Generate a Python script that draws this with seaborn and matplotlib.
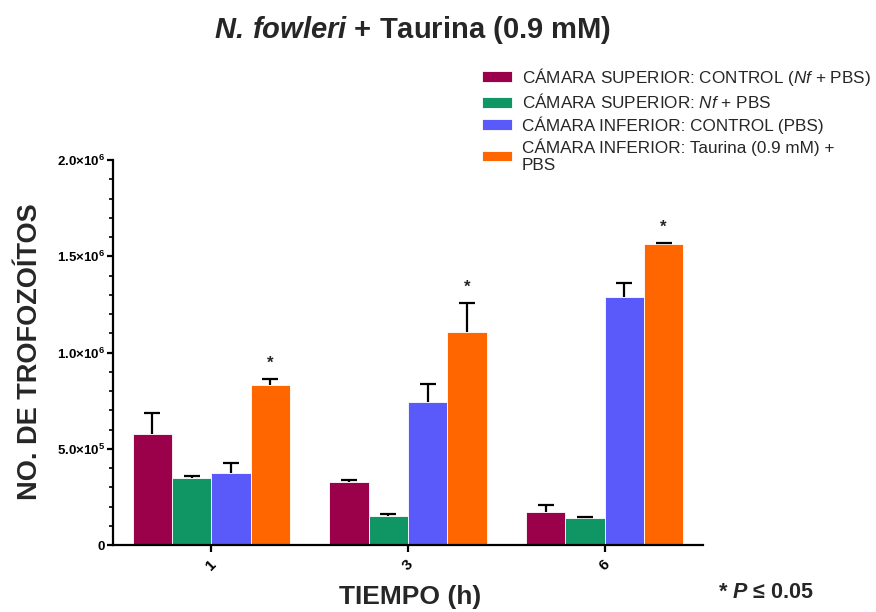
import matplotlib
matplotlib.use("Agg")
import matplotlib.pyplot as plt
import seaborn as sns
import pandas as pd
import numpy as np
from matplotlib.ticker import FixedLocator, FixedFormatter, MultipleLocator

# ---------------------------------------------------------------------------
# Data
# ---------------------------------------------------------------------------
tiempos = ["1", "3", "6"]
grupos = [
    "CÁMARA SUPERIOR: CONTROL ($\\mathit{Nf}$ + PBS)",
    "CÁMARA SUPERIOR: $\\mathit{Nf}$ + PBS",
    "CÁMARA INFERIOR: CONTROL (PBS)",
    "CÁMARA INFERIOR: Taurina (0.9 mM) +\nPBS",
]
colores = ["#9B004B", "#109664", "#5A5AFA", "#FF6600"]

sup_control = [5.77e5, 3.29e5, 1.73e5]
sup_nf = [3.48e5, 1.52e5, 1.39e5]
inf_control = [3.74e5, 7.43e5, 1.288e6]
inf_taurina = [8.31e5, 1.105e6, 1.566e6]

sup_control_err = [1.09e5, 0.09e5, 0.35e5]
sup_nf_err = [0.10e5, 0.07e5, 0.06e5]
inf_control_err = [0.52e5, 0.92e5, 0.72e5]
inf_taurina_err = [0.31e5, 1.51e5, 0.03e5]

significativo = [False, False, False, True]  # asterisk on the taurina series

ytick_values = [0, 5e5, 1e6, 1.5e6, 2e6]
ytick_labels = ["0",
                r"$\mathbf{5.0{\times}10^{5}}$",
                r"$\mathbf{1.0{\times}10^{6}}$",
                r"$\mathbf{1.5{\times}10^{6}}$",
                r"$\mathbf{2.0{\times}10^{6}}$"]

series = [sup_control, sup_nf, inf_control, inf_taurina]
errores = [sup_control_err, sup_nf_err, inf_control_err, inf_taurina_err]

df = pd.DataFrame({
    "tiempo": tiempos * len(grupos),
    "grupo": np.repeat(grupos, len(tiempos)),
    "valor": np.concatenate(series),
})

# ---------------------------------------------------------------------------
# Style
# ---------------------------------------------------------------------------
sns.set_style("ticks")
plt.rcParams["font.family"] = ["Liberation Sans", "DejaVu Sans"]
plt.rcParams["mathtext.fontset"] = "custom"
plt.rcParams["mathtext.rm"] = "Liberation Sans"
plt.rcParams["mathtext.it"] = "Liberation Sans:italic"
plt.rcParams["mathtext.bf"] = "Liberation Sans:bold"
plt.rcParams["mathtext.bfit"] = "Liberation Sans:bold:italic"

fig = plt.figure(figsize=(8.76, 6.12), dpi=100)
ax = fig.add_axes([113 / 876, 1 - 545 / 612, 590 / 876, 385 / 612])

sns.barplot(data=df, x="tiempo", y="valor", hue="grupo", order=tiempos,
            hue_order=grupos, palette=colores, saturation=1, errorbar=None,
            edgecolor="white", linewidth=0.6, ax=ax)

# Error bars (upper only) and significance stars
for cont, err, sig in zip(ax.containers, errores, significativo):
    xs = [p.get_x() + p.get_width() / 2 for p in cont.patches]
    ys = [p.get_height() for p in cont.patches]
    eb = ax.errorbar(xs, ys, yerr=[np.zeros(len(err)), err], fmt="none",
                     ecolor="black", elinewidth=1.6, capsize=6, capthick=1.6,
                     zorder=3)
    eb[1][0].set_visible(False)  # hide the lower cap
    if sig:
        for x, y, e in zip(xs, ys, err):
            ax.annotate("*", (x, y + e), xytext=(0, 6),
                        textcoords="offset points", ha="center", va="bottom",
                        fontsize=12, fontweight="bold")

ax.set_xlim(-0.5, 2.5)
ax.set_ylim(0, 2e6)
ax.yaxis.set_major_locator(FixedLocator(ytick_values))
ax.yaxis.set_major_formatter(FixedFormatter(ytick_labels))
ax.yaxis.set_minor_locator(MultipleLocator(1e5))

sns.despine(ax=ax)
for s in ["left", "bottom"]:
    ax.spines[s].set_linewidth(1.6)
    ax.spines[s].set_color("black")

ax.tick_params(axis="y", which="major", length=4, width=1.6, labelsize=9.5,
               colors="black", pad=1.5)
ax.tick_params(axis="y", which="minor", length=3, width=1.2, colors="black")
ax.tick_params(axis="x", which="major", length=5, width=1.6, labelsize=11,
               colors="black")
for lab in ax.get_xticklabels():
    lab.set_rotation(45)
    lab.set_fontweight("bold")
for lab in ax.get_yticklabels():
    lab.set_fontweight("bold")

ax.set_xlabel("TIEMPO (h)", fontsize=19, fontweight="bold")
ax.set_ylabel("NO. DE TROFOZOÍTOS", fontsize=19.5, fontweight="bold")
ax.xaxis.label.set_va("center")
ax.yaxis.label.set_va("center")
ax.xaxis.set_label_coords((410 - 113) / 590, (545 - 597) / 385)
ax.yaxis.set_label_coords((30 - 113) / 590, (545 - 352) / 385)

fig.text(413 / 876, 1 - 30 / 612,
         r"$\mathbfit{N.\,fowleri}$ + Taurina (0.9 mM)",
         ha="center", va="center", fontsize=21, fontweight="bold")

fig.text(766 / 876, 1 - 592 / 612, r"* $\mathbfit{P}$ ≤ 0.05",
         ha="center", va="center", fontsize=15.5, fontweight="bold")

handles, labels = ax.get_legend_handles_labels()
ax.legend(handles, labels, loc="upper left",
          bbox_to_anchor=(480 / 876, 1 - 64 / 612),
          bbox_transform=fig.transFigure, frameon=False, fontsize=12.3,
          handlelength=1.75, handleheight=0.6, handletextpad=0.6,
          labelspacing=0.28, borderpad=0.1, borderaxespad=0)

fig.savefig("out.png", dpi=100)
